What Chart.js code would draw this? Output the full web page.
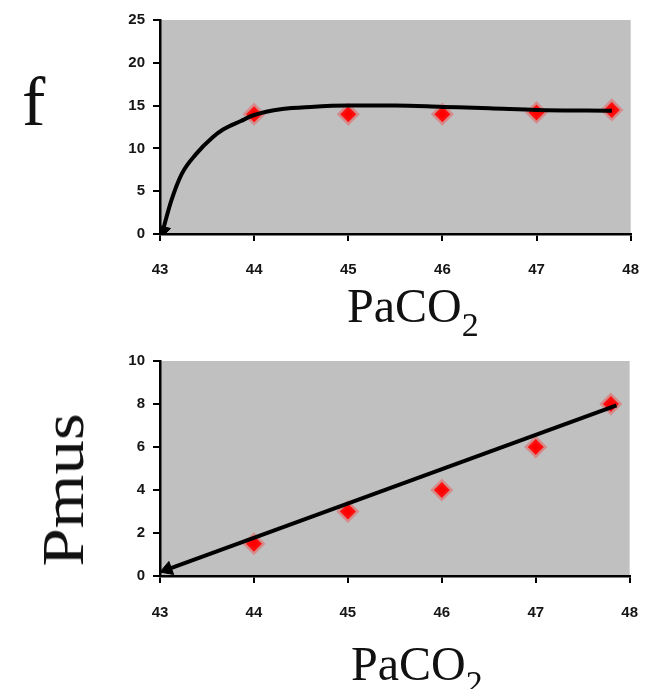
<!DOCTYPE html>
<html>
<head>
<meta charset="utf-8">
<script src="https://cdn.jsdelivr.net/npm/chart.js@4/dist/chart.umd.min.js"></script>
<style>
  html, body { margin:0; padding:0; background:#ffffff; }
  body { width:659px; height:689px; position:relative; overflow:hidden; }
  canvas { position:absolute; left:0; }
  .lbl { position:absolute; font-family:"Liberation Serif","Times New Roman",serif; color:#111; line-height:1; white-space:nowrap; }
</style>
</head>
<body>
<canvas id="c1" width="659" height="300" style="top:0px"></canvas>
<canvas id="c2" width="659" height="300" style="top:340px"></canvas>
<div class="lbl" id="fLbl" style="left:22px; top:67px; font-size:70px;">f</div>
<div class="lbl" id="pLbl" style="font-size:60px; left:-6px; top:460px; width:138px; height:60px; text-align:center; transform:rotate(-90deg) scale(1.15,1);">Pmus</div>
<div class="lbl" style="left:347px; top:282px; font-size:48px;">PaCO<span style="font-size:34px; position:relative; top:14px;">2</span></div>
<div class="lbl" style="left:351px; top:640px; font-size:48px;">PaCO<span style="font-size:34px; position:relative; top:14px;">2</span></div>
<script>
// ---- data ----
const xTickValues = [43, 44, 45, 46, 47, 48];
const fTickValues = [0, 5, 10, 15, 20, 25];
const pTickValues = [0, 2, 4, 6, 8, 10];

const fPointsX = [44, 45, 46, 47, 47.8];
const fPointsY = [14.0, 14.0, 14.0, 14.2, 14.5];
const fCurveX = [43.03, 43.12, 43.23, 43.38, 43.56, 43.67, 43.86, 44.0, 44.3, 44.6, 45.0, 45.5, 46.0, 46.5, 47.0, 47.8];
const fCurveY = [0.4, 3.9, 7.0, 9.3, 11.3, 12.2, 13.2, 13.9, 14.6, 14.85, 15.0, 15.0, 14.85, 14.7, 14.5, 14.4];

const pPointsX = [44, 45, 46, 47, 47.8];
const pPointsY = [1.5, 3, 4, 6, 8];
const pLineX = [43.08, 47.86];
const pLineY = [0.31, 7.94];

// ---- helpers ----
const zip = (xs, ys) => xs.map((x, i) => ({x: x, y: ys[i]}));

const bgPlugin = {
  id: 'plotBg',
  beforeDraw(chart) {
    const a = chart.chartArea, ctx = chart.ctx;
    ctx.save();
    ctx.fillStyle = '#c0c0c0';
    ctx.fillRect(a.left, a.top, a.right - a.left, a.bottom - a.top);
    ctx.restore();
  }
};

function makeChart(id, cfg) {
  const tickFont = {family: 'Arial, "Liberation Sans", sans-serif', size: 15, weight: 'bold'};
  return new Chart(document.getElementById(id), {
    type: 'scatter',
    data: {
      datasets: [
        {
          data: cfg.line,
          showLine: true,
          borderColor: '#000000',
          borderWidth: 4,
          tension: cfg.tension,
          cubicInterpolationMode: cfg.mono ? 'monotone' : 'default',
          pointStyle: cfg.line.map((p, i) => i === 0 ? 'triangle' : 'circle'),
          pointRadius: cfg.line.map((p, i) => i === 0 ? 8 : 0),
          pointRotation: cfg.line.map((p, i) => i === 0 ? cfg.arrowRot : 0),
          pointBackgroundColor: '#000000',
          pointBorderColor: '#000000',
          pointBorderWidth: 1,
          order: 0
        },
        {
          data: cfg.points,
          showLine: false,
          pointStyle: 'rectRot',
          pointRadius: 8,
          pointBackgroundColor: '#ff0000',
          pointBorderColor: 'rgba(255,40,40,0.35)',
          pointBorderWidth: 5,
          order: 1
        }
      ]
    },
    options: {
      responsive: false,
      animation: false,
      events: [],
      layout: {padding: {left: 100, right: 19, top: cfg.padTop, bottom: 0}},
      plugins: {legend: {display: false}, tooltip: {enabled: false}, title: {display: false}},
      scales: {
        x: {
          type: 'linear', min: 43, max: 48,
          afterBuildTicks: s => { s.ticks = xTickValues.map(v => ({value: v})); },
          afterFit: s => { s.height = cfg.xH; },
          border: {display: true, color: '#000000', width: 2.5},
          grid: {display: true, drawOnChartArea: false, drawTicks: true, tickLength: 7, color: '#000000', lineWidth: 2},
          ticks: {font: tickFont, color: '#151515', padding: cfg.xPad, maxRotation: 0}
        },
        y: {
          type: 'linear', min: cfg.yTicks[0], max: cfg.yTicks[cfg.yTicks.length - 1],
          afterBuildTicks: s => { s.ticks = cfg.yTicks.map(v => ({value: v})); },
          afterFit: s => { s.width = 60; },
          border: {display: true, color: '#000000', width: 2.5},
          grid: {display: true, drawOnChartArea: false, drawTicks: true, tickLength: 7, color: '#000000', lineWidth: 2},
          ticks: {font: tickFont, color: '#151515', padding: 8}
        }
      }
    },
    plugins: [bgPlugin]
  });
}

makeChart('c1', {
  line: zip(fCurveX, fCurveY),
  points: zip(fPointsX, fPointsY),
  yTicks: fTickValues,
  tension: 0.4, mono: true,
  arrowRot: 195,
  padTop: 20, xH: 66, xPad: 20
});

makeChart('c2', {
  line: zip(pLineX, pLineY),
  points: zip(pPointsX, pPointsY),
  yTicks: pTickValues,
  tension: 0, mono: false,
  arrowRot: 250,
  padTop: 21, xH: 64, xPad: 21
});
</script>
</body>
</html>
